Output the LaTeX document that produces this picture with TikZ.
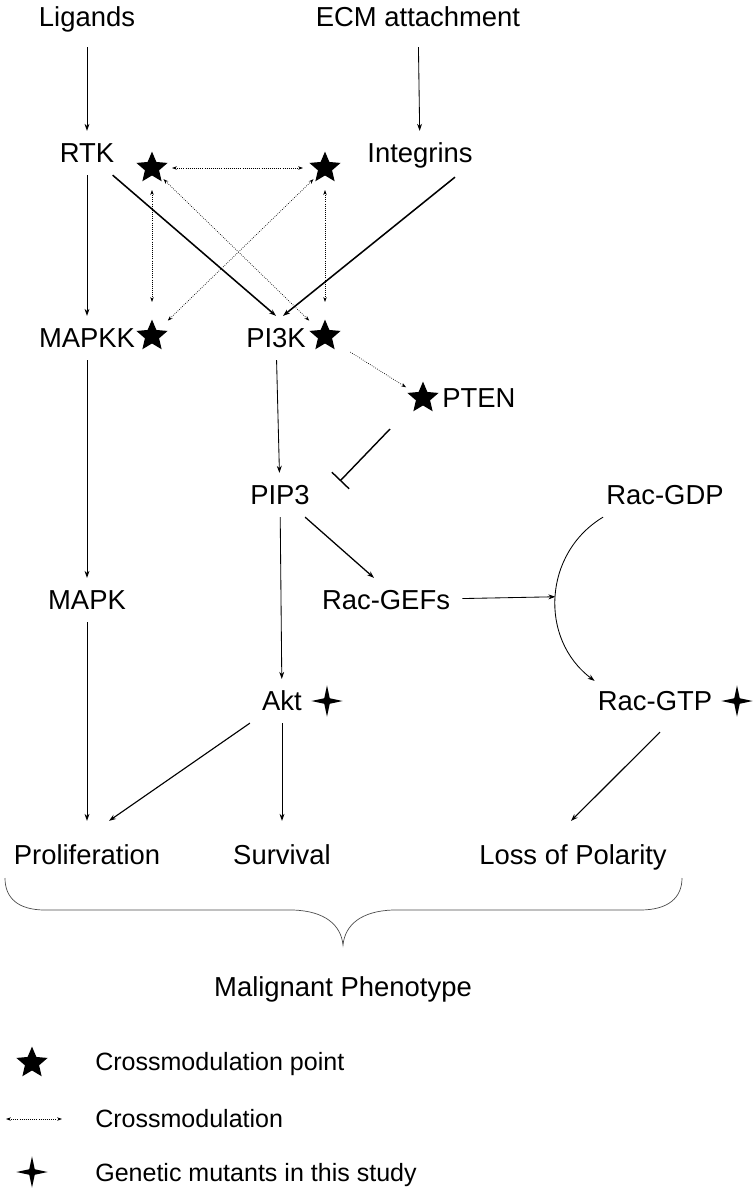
\documentclass[tikz,border=0pt]{standalone}
\usepackage{fontspec}
\setmainfont{Liberation Sans}
\usetikzlibrary{arrows.meta,shapes.geometric,calc}

\tikzset{
  lbl/.style={font=\fontsize{19.5}{23}\selectfont, text height=14pt, text depth=0pt, inner sep=0.3cm},
  outc/.style={lbl, inner ysep=0.6cm},
  leg/.style={font=\fontsize{17.8}{21}\selectfont, text height=12.7pt, text depth=0pt, inner sep=0pt, anchor=west},
  xpt/.style={star, star points=5, star point ratio=2.2, fill=black, inner sep=0pt, minimum size=0.82cm},
  mut/.style={star, star points=4, star point ratio=4, fill=black, inner sep=0pt, minimum size=0.78cm},
  arr/.style={-{Stealth[length=5pt,width=3.5pt]}, line width=0.6pt},
  thk/.style={arr, line width=1.1pt},
  xmod/.style={{Stealth[length=3.5pt,width=2.5pt]}-{Stealth[length=3.5pt,width=2.5pt]}, densely dotted, line width=0.5pt, shorten <=0.4cm, shorten >=0.55cm},
  xmodone/.style={xmod, -{Stealth[length=3.5pt,width=2.5pt]}},
  inhib/.style={-{Bar[width=0.6cm]}, line width=1pt}
}

\begin{document}
\begin{tikzpicture}[x=0.025cm, y=-0.025cm]
\useasboundingbox (0,0) rectangle (752,1199);
% inputs and receptors
\node[lbl] (lig) at (87,17) {Ligands};
\node[lbl] (ecm) at (418,17) {ECM attachment};
\node[lbl] (rtk) at (87,153) {RTK};
\node[lbl] (integ) at (420,153) {Integrins};
\node[xpt] (s1) at (152,168) {};
\node[xpt] (s2) at (325,168) {};
% kinases
\node[lbl] (mapkk) at (87,338) {MAPKK};
\node[lbl] (pi3k) at (276,338) {PI3K};
\node[xpt] (s3) at (152,336) {};
\node[xpt] (s4) at (325,336) {};
\node[xpt] (s5) at (423,398) {};
\node[lbl, anchor=west, inner xsep=0pt] (pten) at (442,398) {PTEN};
\node[lbl] (pip3) at (280,495) {PIP3};
\node[lbl] (rgdp) at (665,495) {Rac-GDP};
\node[lbl] (mapk) at (87,600) {MAPK};
\node[lbl] (racgef) at (386,600) {Rac-GEFs};
\node[lbl] (akt) at (282,701) {Akt};
\node[mut] (m1) at (327,701) {};
\node[lbl] (rgtp) at (655,701) {Rac-GTP};
\node[mut] (m2) at (737,701) {};
% outcomes
\node[outc] (prolif) at (87,855) {Proliferation};
\node[outc] (surv) at (282,855) {Survival};
\node[outc] (loss) at (573,855) {Loss of Polarity};
\node[lbl] (malig) at (343,987) {Malignant Phenotype};

\draw[arr, shorten <=0.2cm] (lig) -- (rtk);
\draw[arr, shorten <=0.2cm] (ecm) -- (integ);
\draw[arr] (rtk) -- (mapkk);
\draw[thk] (rtk) -- (pi3k.north);
\draw[thk] ($(integ.south)+(35,2)$) -- ($(pi3k.north)+(7,0)$);
\draw[arr] (mapkk) -- (mapk);
\draw[arr] (pi3k) -- (pip3);
\draw[arr] (pip3) -- (akt);
\draw[arr, line width=0.9pt] (pip3) -- ($(racgef.north)+(-12,0)$);
\draw[inhib] ($(s5)+(-33,31)$) -- ($(pip3.east)+(18,-14)$);
\draw[arr] ($(rgdp.south west)+(9,0)$) to[bend right=56, looseness=1.09] coordinate[pos=0.5] (gefin) ($(rgtp.north west)+(9,2)$);
\draw[arr] (racgef) -- (gefin);
\draw[arr] (mapk) -- (prolif);
\draw[arr, line width=0.8pt] (akt.south west) -- ($(prolif.north)+(22,0)$);
\draw[arr] (akt) -- (surv);
\draw[arr, line width=0.8pt] ($(rgtp.south)+(5,9)$) -- ($(loss.north)+(-2,0)$);

% crossmodulation
\draw[xmod, shorten <=0.5cm, shorten >=0.55cm] (s1.center) -- (s2.center);
\draw[xmod, shorten <=0.55cm, shorten >=0.85cm] (s1.center) -- (s3.center);
\draw[xmod, shorten <=0.55cm, shorten >=0.85cm] (s2.center) -- (s4.center);
\draw[xmod] (s2.center) -- (s3.center);
\draw[xmod] (s1.center) -- (s4.center);
\draw[xmodone, shorten <=0.75cm, shorten >=0.5cm] (s4.center) -- (s5.center);

% brace
\draw[line width=0.5pt, black!70] (5,878) .. controls (5,898) and (18,910) .. (45,910) -- (293,910) .. controls (325,911) and (341,925) .. (343,945) .. controls (345,925) and (361,911) .. (393,910) -- (640,910) .. controls (668,910) and (682,898) .. (682,878);

% legend
\node[xpt] (k1) at (32,1063) {};
\node[leg] (k1t) at (95,1062) {Crossmodulation point};
\coordinate (k2a) at (6,1119);
\coordinate (k2b) at (62,1119);
\draw[xmod, shorten <=0pt, shorten >=0pt] (k2a) -- (k2b);
\node[leg] (k2t) at (95,1119) {Crossmodulation};
\node[mut] (k3) at (32,1172) {};
\node[leg] (k3t) at (95,1173) {Genetic mutants in this study};
\end{tikzpicture}
\end{document}
